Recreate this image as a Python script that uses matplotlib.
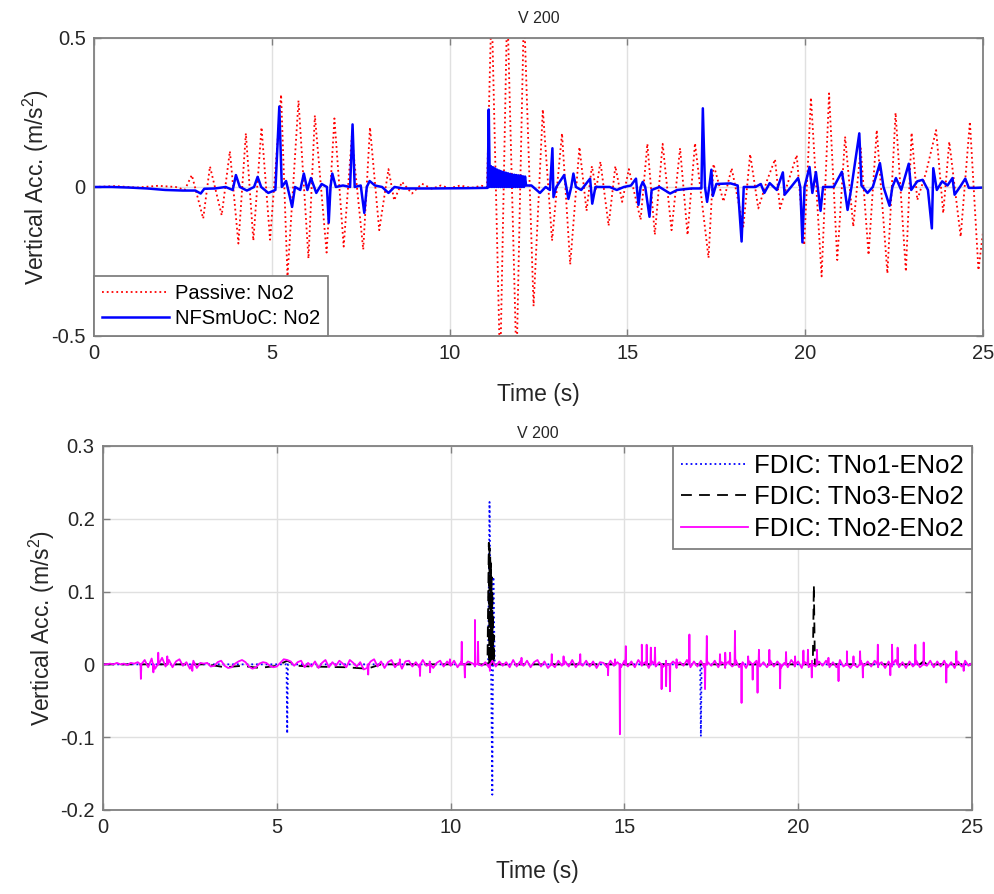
import numpy as np
import matplotlib
matplotlib.use("Agg")
import matplotlib.pyplot as plt

plt.rcParams['font.family'] = ['Liberation Sans', 'DejaVu Sans']
plt.rcParams['mathtext.default'] = 'regular'

# ---------------- data: top panel ----------------
passive_t = [0.0, 0.6, 1.2, 1.8, 2.3, 2.55, 2.75, 3.07, 3.26, 3.59, 3.82, 4.06, 4.27, 4.48, 4.71, 4.95,
             5.26, 5.44, 5.75, 6.03, 6.21, 6.54, 6.76, 7.02, 7.25, 7.57, 7.76, 8.02, 8.28, 8.44, 8.66, 8.94,
             9.22, 9.5, 9.75, 10.0, 10.3, 10.6, 10.9, 11.05, 11.18, 11.42, 11.62, 11.88, 12.09, 12.36, 12.62,
             12.88, 13.16, 13.39, 13.65, 13.85, 14.0, 14.12, 14.24, 14.47, 14.66, 14.85, 15.04, 15.37, 15.56,
             15.77, 15.99, 16.24, 16.48, 16.69, 16.9, 17.28, 17.42, 17.7, 17.93, 18.26, 18.45, 18.68, 18.92,
             19.15, 19.29, 19.5, 19.76, 19.97, 20.16, 20.46, 20.67, 20.9, 21.12, 21.35, 21.56, 21.78, 22.01,
             22.31, 22.54, 22.83, 22.99, 23.15, 23.4, 23.68, 23.88, 24.05, 24.37, 24.63, 24.87, 25.0]
passive_v = [0.0, 0.003, -0.002, 0.004, 0.0, -0.01, 0.04, -0.106, 0.069, -0.095, 0.12, -0.19, 0.18, -0.18, 0.2, -0.177,
             0.31, -0.30, 0.29, -0.24, 0.24, -0.22, 0.23, -0.2, 0.17, -0.21, 0.2, -0.145, 0.06, -0.045, 0.017, -0.022,
             0.011, -0.006, 0.005, -0.004, 0.005, -0.003, 0.004, 0.0, 0.62, -0.62, 0.62, -0.6, 0.6, -0.40, 0.26,
             -0.18, 0.18, -0.26, 0.134, -0.08, 0.07, -0.01, 0.085, -0.13, 0.07, -0.05, 0.06, -0.11, 0.145,
             -0.16, 0.145, -0.145, 0.13, -0.161, 0.147, -0.238, 0.077, -0.049, 0.063, -0.133, 0.11, -0.072, 0.02,
             0.093, -0.072, 0.01, 0.107, -0.195, 0.30, -0.30, 0.314, -0.245, 0.169, -0.133, 0.13, -0.228, 0.191,
             -0.29, 0.249, -0.284, 0.182, -0.044, 0.05, 0.191, -0.088, 0.152, -0.167, 0.219, -0.279, -0.15]

nfs_points = [
    (0.0, 0.0), (0.5, 0.0), (1.0, -0.002), (1.5, -0.005), (2.0, -0.01), (2.5, -0.012), (2.85, -0.012),
    (3.0, -0.022), (3.1, -0.006), (3.4, -0.005), (3.7, 0.0), (3.9, -0.01), (3.99, 0.04), (4.1, 0.0),
    (4.3, -0.012), (4.5, 0.0), (4.6, 0.034), (4.7, 0.0), (4.9, -0.02), (5.1, -0.01), (5.21, 0.27),
    (5.28, 0.0), (5.4, 0.02), (5.5, -0.03), (5.57, -0.067), (5.65, 0.0), (5.8, -0.01), (5.9, 0.045),
    (6.0, -0.01), (6.1, 0.03), (6.25, -0.02), (6.4, 0.01), (6.55, 0.0), (6.6, -0.12), (6.65, 0.0),
    (6.7, 0.045), (6.8, 0.0), (7.0, 0.005), (7.2, 0.0), (7.27, 0.21), (7.33, 0.0), (7.5, 0.005),
    (7.6, -0.087), (7.67, 0.0), (7.75, 0.02), (7.9, 0.005), (8.1, 0.0), (8.28, -0.02), (8.45, 0.0),
    (8.7, -0.005), (9.5, -0.005), (10.5, -0.004), (11.07, -0.003), (11.1, 0.26), (11.13, 0.0),
    (11.16, 0.07), (11.19, 0.0), (11.22, 0.066), (11.25, 0.0), (11.28, 0.062), (11.31, 0.0),
    (11.34, 0.058), (11.37, 0.0), (11.40, 0.055), (11.43, 0.0), (11.46, 0.052), (11.49, 0.0),
    (11.52, 0.05), (11.55, 0.0), (11.58, 0.048), (11.61, 0.0), (11.64, 0.046), (11.67, 0.0),
    (11.70, 0.044), (11.73, 0.0), (11.76, 0.042), (11.79, 0.0), (11.82, 0.041), (11.85, 0.0),
    (11.88, 0.04), (11.91, 0.0), (11.94, 0.039), (11.97, 0.0), (12.0, 0.038), (12.03, 0.0),
    (12.06, 0.036), (12.09, 0.0), (12.12, 0.035), (12.15, 0.005), (12.3, 0.005), (12.54, -0.02),
    (12.7, 0.0), (12.82, -0.01), (12.89, 0.13), (12.92, -0.034), (13.0, 0.0), (13.22, 0.04),
    (13.28, 0.0), (13.34, -0.04), (13.42, 0.0), (13.48, 0.045), (13.55, 0.0), (13.7, -0.01),
    (13.95, 0.028), (14.01, -0.056), (14.1, 0.0), (14.5, 0.0), (14.7, -0.01), (14.9, 0.0),
    (15.1, 0.005), (15.24, 0.028), (15.31, -0.06), (15.37, 0.0), (15.43, 0.017), (15.5, 0.0),
    (15.62, -0.1), (15.68, -0.01), (15.9, 0.0), (16.2, -0.022), (16.4, -0.01), (16.8, -0.005),
    (17.08, -0.005), (17.12, 0.264), (17.18, 0.0), (17.24, -0.05), (17.3, 0.0), (17.36, 0.058),
    (17.4, -0.03), (17.5, 0.01), (17.9, 0.012), (18.1, 0.005), (18.21, -0.183), (18.27, 0.0),
    (18.6, 0.0), (18.75, 0.01), (18.85, -0.02), (19.0, 0.013), (19.2, -0.01), (19.37, 0.049),
    (19.42, -0.026), (19.6, 0.0), (19.8, 0.03), (19.86, 0.0), (19.92, -0.186), (19.98, 0.0),
    (20.12, 0.067), (20.2, -0.02), (20.3, 0.05), (20.43, -0.08), (20.5, 0.0), (20.8, 0.0),
    (21.03, 0.051), (21.1, 0.0), (21.19, -0.077), (21.3, 0.0), (21.52, 0.18), (21.58, 0.005),
    (21.75, -0.02), (21.9, 0.0), (22.1, 0.08), (22.2, 0.0), (22.37, -0.063), (22.45, 0.0),
    (22.55, 0.03), (22.7, -0.01), (22.91, 0.078), (22.98, -0.01), (23.15, 0.019), (23.3, 0.024),
    (23.45, -0.01), (23.56, -0.139), (23.6, 0.063), (23.7, -0.01), (23.85, 0.019), (24.0, 0.005),
    (24.14, 0.03), (24.2, -0.026), (24.35, 0.0), (24.5, 0.028), (24.6, -0.003), (24.8, -0.003),
    (25.0, -0.002)]

# ---------------- data: bottom panel ----------------
tno1_points = [(0.0, 0.0), (5.28, 0.0), (5.30, -0.095), (5.32, 0.0), (11.08, 0.0), (11.12, 0.223),
               (11.2, -0.179), (11.23, 0.12), (11.27, 0.0), (17.18, 0.0), (17.2, -0.099), (17.22, 0.0),
               (25.0, 0.0)]

tno3_points = [(0.0, 0.0), (3.0, 0.0), (3.5, -0.004), (4.0, -0.002), (4.5, -0.005), (5.0, -0.002),
               (5.3, 0.005), (5.6, -0.002), (6.0, -0.003), (7.0, -0.004), (7.6, -0.006), (8.0, 0.0),
               (11.06, 0.0), (11.1, 0.167), (11.11, 0.0), (11.12, 0.16), (11.13, 0.0), (11.14, 0.15),
               (11.15, 0.0), (11.16, 0.14), (11.17, 0.0), (11.18, 0.12), (11.19, 0.0), (11.2, 0.1),
               (11.21, 0.0), (11.22, 0.07), (11.23, 0.0), (11.24, 0.04), (11.25, 0.0),
               (20.42, 0.0), (20.45, 0.109), (20.48, 0.0),
               (23.5, 0.0), (23.6, 0.004), (23.7, 0.0), (25.0, 0.0)]

# TNo2 background noise sampled every 0.1 s (0 .. 25 s)
tno2_noise = [
    0, 0, 0.001, 0, 0.002, 0, 0.001, -0.001, 0.002, 0.001,
    0.003, -0.008, 0.006, -0.004, 0.008, -0.006, 0.005, 0.009, -0.003, 0.006,
    -0.004, 0.004, 0.007, -0.002, 0.003, -0.006, 0.005, -0.005, 0.002, 0.001,
    0.002, -0.003, -0.002, 0.003, 0.005, -0.002, -0.005, -0.004, 0.001, 0.004,
    0.006, 0.003, -0.003, -0.006, -0.004, 0.001, 0.003, 0.002, -0.002, -0.004,
    -0.003, 0.002, 0.007, 0.006, 0.004, -0.002, 0.003, 0.005, -0.004, 0.002,
    -0.003, 0.004, -0.005, 0.002, 0.006, -0.004, 0.003, -0.002, 0.005, 0.001,
    -0.004, 0.006, 0.002, -0.003, 0.003, -0.007, -0.005, 0.004, 0.007, -0.003,
    0.004, -0.005, 0.003, 0.006, -0.004, 0.002, -0.006, 0.004, 0.005, -0.003,
    0.003, -0.004, 0.006, -0.002, 0.004, -0.005, 0.002, 0.005, -0.003, 0.004,
    -0.002, 0.005, -0.004, 0.003, -0.006, 0.004, 0.002, -0.003, 0.005, -0.002,
    0.003, -0.004, 0.005, -0.003, 0.004, -0.002, 0.003, -0.004, 0.006, -0.003,
    0.004, -0.002, 0.005, -0.004, 0.003, 0.006, -0.003, 0.004, -0.005, 0.003,
    -0.004, 0.005, -0.002, 0.004, -0.003, 0.006, -0.004, 0.003, -0.002, 0.005,
    -0.003, 0.004, -0.005, 0.003, 0.002, -0.004, 0.005, -0.002, 0.003, -0.004,
    0.005, -0.003, 0.004, -0.004, 0.006, -0.002, 0.003, -0.005, 0.004, -0.003,
    0.003, -0.004, 0.005, -0.003, 0.004, -0.005, 0.003, -0.002, 0.006, -0.004,
    0.004, -0.003, 0.005, -0.004, 0.003, -0.002, 0.005, -0.004, 0.003, -0.005,
    0.004, -0.003, 0.006, -0.004, 0.003, -0.005, 0.004, -0.002, 0.005, -0.003,
    0.003, -0.004, 0.005, -0.003, 0.004, -0.005, 0.002, -0.004, 0.006, -0.003,
    0.004, -0.005, 0.003, -0.004, 0.005, -0.003, 0.004, -0.002, 0.005, -0.004,
    0.003, -0.004, 0.006, -0.003, 0.004, -0.005, 0.003, -0.004, 0.005, -0.002,
    0.004, -0.003, 0.005, -0.004, 0.003, -0.005, 0.004, -0.003, 0.006, -0.004,
    0.003, -0.005, 0.004, -0.003, 0.005, -0.004, 0.003, -0.002, 0.005, -0.004,
    0.004, -0.003, 0.005, -0.004, 0.003, -0.005, 0.004, -0.003, 0.005, -0.002,
    0.002]

# TNo2 spikes (time, value)
tno2_spikes = [
    (1.09, -0.020), (1.45, -0.011), (1.59, 0.016), (1.85, 0.011), (2.57, -0.009), (7.63, -0.014),
    (8.54, 0.007), (9.12, -0.016), (9.41, -0.011), (9.98, 0.007), (10.32, 0.031), (10.41, -0.018),
    (10.7, 0.061), (10.79, 0.031), (11.13, -0.009), (12.04, 0.009), (12.91, 0.014), (13.25, 0.011),
    (13.73, 0.014), (14.53, -0.015), (14.73, 0.007), (14.87, -0.096), (15.04, 0.025), (15.5, 0.027),
    (15.64, 0.027), (15.76, 0.023), (15.88, 0.023), (16.07, -0.034), (16.2, -0.03), (16.31, -0.037),
    (16.5, 0.007), (16.87, 0.041), (17.32, -0.034), (17.37, 0.039), (17.75, 0.014), (17.9, 0.016),
    (18.04, 0.016), (18.18, 0.046), (18.37, -0.053), (18.56, 0.011), (18.69, -0.021), (18.83, -0.039),
    (18.87, 0.02), (19.17, 0.02), (19.48, -0.033), (19.65, 0.017), (19.91, 0.011), (20.15, 0.019),
    (20.28, 0.02), (20.39, -0.018), (20.54, 0.02), (20.87, 0.009), (21.16, -0.023), (21.4, 0.018),
    (21.59, 0.011), (21.78, 0.018), (21.86, -0.018), (22.29, 0.027), (22.65, -0.015), (22.7, 0.027),
    (22.86, 0.023), (23.37, 0.027), (23.61, 0.03), (24.26, -0.025), (24.55, 0.018), (24.76, -0.009)]

x_ticks = [0, 5, 10, 15, 20, 25]
top_yticks = [-0.5, 0, 0.5]
bot_yticks = [-0.2, -0.1, 0, 0.1, 0.2, 0.3]

# ---------------- build series ----------------
nfs_t, nfs_v = map(np.array, zip(*nfs_points))
t1_t, t1_v = map(np.array, zip(*tno1_points))
t3_t, t3_v = map(np.array, zip(*tno3_points))

noise_t = np.round(np.arange(len(tno2_noise)) * 0.1, 2)
sp_t = []
sp_v = []
for (ts, vs) in tno2_spikes:
    sp_t += [ts - 0.012, ts, ts + 0.012]
    sp_v += [0.0, vs, 0.0]
t2_t = np.concatenate([noise_t, sp_t])
t2_v = np.concatenate([tno2_noise, sp_v])
order = np.argsort(t2_t, kind='stable')
t2_t, t2_v = t2_t[order], t2_v[order]

# ---------------- figure ----------------
fig = plt.figure(figsize=(9.95, 8.94), dpi=100)
ax1 = fig.add_axes([0.0945, 0.6242, 0.8935, 0.3333])
ax2 = fig.add_axes([0.1035, 0.094, 0.8734, 0.4072])

TXT = '#262626'
SPINE = '#808080'

def style(ax, xpad, ypad):
    for s in ax.spines.values():
        s.set_color(SPINE)
        s.set_linewidth(1.3)
    ax.tick_params(direction='in', length=5, width=1.0, colors=SPINE, labelcolor=TXT,
                   labelsize=14.5, top=True, right=True, pad=6)
    ax.grid(True, color='#e0e0e0', linewidth=1.0)
    ax.set_axisbelow(True)
    ax.set_xlim(0, 25)
    ax.set_xticks(x_ticks)
    ax.set_xticklabels([str(v) for v in x_ticks])
    ax.set_xlabel('Time (s)', fontsize=16.5, color=TXT, labelpad=xpad)
    ax.set_ylabel('Vertical Acc. (m/s$^2$)', fontsize=16.5, color=TXT, labelpad=ypad)

# top panel
ax1.plot(passive_t, passive_v, color='#ff0000', linestyle=':', linewidth=1.3, label='Passive: No2')
ax1.plot(nfs_t, nfs_v, color='#0000ff', linestyle='-', linewidth=1.8, label='NFSmUoC: No2')
style(ax1, 14, 0)
ax1.set_ylim(-0.5, 0.5)
ax1.set_yticks(top_yticks)
ax1.set_yticklabels(['-0.5', '0', '0.5'])
ax1.set_title('V 200', fontsize=11.5, color=TXT, pad=11)
leg1 = ax1.legend(loc='lower left', borderaxespad=0, fontsize=14.5, handlelength=3.3,
                  fancybox=False, framealpha=1, edgecolor=SPINE, borderpad=0.4,
                  labelspacing=0.3, handletextpad=0.3)
leg1.get_frame().set_linewidth(1.3)

# bottom panel
ax2.plot(t1_t, t1_v, color='#0000ff', linestyle=':', linewidth=1.3, label='FDIC: TNo1-ENo2')
ax2.plot(t3_t, t3_v, color='#000000', linestyle=(0, (6, 4)), linewidth=1.3, label='FDIC: TNo3-ENo2')
ax2.plot(t2_t, t2_v, color='#ff00ff', linestyle='-', linewidth=1.3, label='FDIC: TNo2-ENo2')
style(ax2, 16, 2)
ax2.set_ylim(-0.2, 0.3)
ax2.set_yticks(bot_yticks)
ax2.set_yticklabels(['-0.2', '-0.1', '0', '0.1', '0.2', '0.3'])
ax2.set_title('V 200', fontsize=11.5, color=TXT, pad=6)
leg2 = ax2.legend(loc='upper right', borderaxespad=0, fontsize=18.5, handlelength=2.6,
                  fancybox=False, framealpha=1, edgecolor=SPINE, borderpad=0.32,
                  labelspacing=0.28, handletextpad=0.25)
leg2.get_frame().set_linewidth(1.3)

fig.savefig('out.png', dpi=100)
